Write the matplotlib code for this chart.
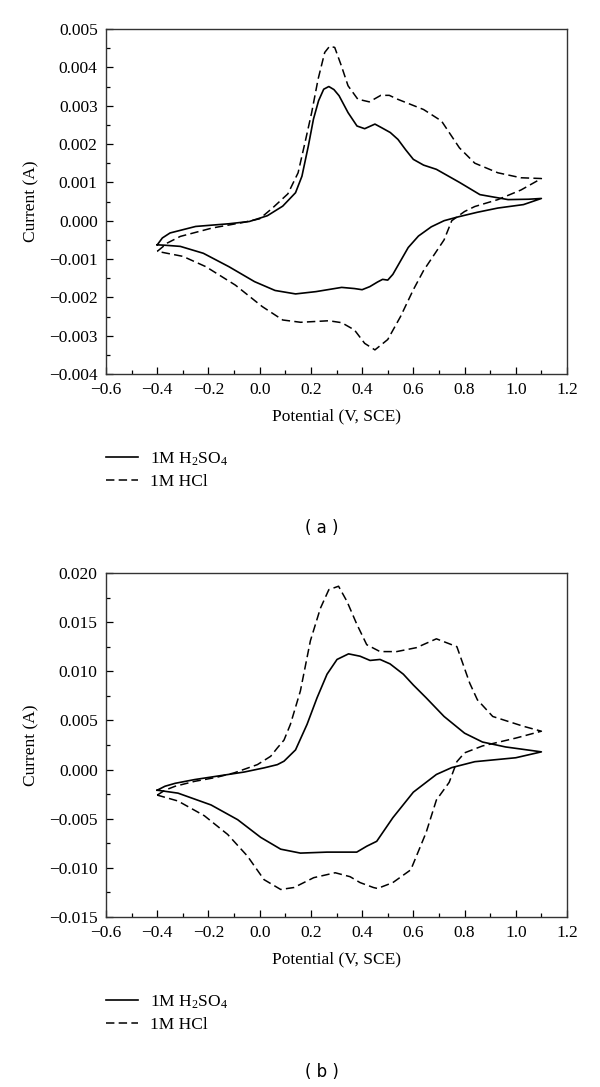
import matplotlib
matplotlib.use('Agg')
import matplotlib.pyplot as plt
from matplotlib.ticker import MultipleLocator, FuncFormatter
import numpy as np

plt.rcParams['font.family'] = ['Liberation Serif', 'DejaVu Serif']
plt.rcParams['mathtext.fontset'] = 'custom'
plt.rcParams['mathtext.rm'] = 'Liberation Serif'
plt.rcParams['mathtext.default'] = 'regular'

# ---- (a) datos: barrido directo y retorno, potencial en V, corriente en A
pot_a_h2so4 = [-0.40, -0.38, -0.35, -0.25, -0.12, -0.04, 0.03, 0.09, 0.14, 0.165, 0.19, 0.21,
               0.23, 0.25, 0.27, 0.29, 0.31, 0.345, 0.38, 0.41, 0.45, 0.475, 0.51, 0.54, 0.57,
               0.60, 0.64, 0.69, 0.78, 0.86, 0.97, 1.05, 1.10,
               1.03, 0.93, 0.85, 0.775, 0.72, 0.67, 0.62, 0.58, 0.55, 0.52, 0.50, 0.48, 0.46,
               0.43, 0.40, 0.37, 0.32, 0.22, 0.14, 0.06, -0.02, -0.12, -0.22, -0.31, -0.37,
               -0.40]
cur_a_h2so4 = [-0.00063, -0.00045, -0.00032, -0.00015, -0.00008, -0.00002, 0.00013, 0.00038,
               0.00073, 0.00116, 0.00195, 0.00265, 0.00313, 0.00343, 0.0035, 0.00342, 0.00326,
               0.00282, 0.00247, 0.0024, 0.00252, 0.00243, 0.0023, 0.00212, 0.00185, 0.0016,
               0.00145, 0.00134, 0.0010, 0.00068, 0.00055, 0.00056, 0.00058,
               0.00042, 0.00033, 0.00022, 0.0001, 0.0, -0.00016, -0.0004, -0.0007, -0.00105,
               -0.0014, -0.00155, -0.00153, -0.0016, -0.00172, -0.0018, -0.00177, -0.00174,
               -0.00185, -0.00191, -0.00182, -0.00159, -0.0012, -0.00085, -0.00067, -0.00064,
               -0.00063]

pot_a_hcl = [-0.40, -0.36, -0.31, -0.185, -0.06, 0.0, 0.05, 0.11, 0.15, 0.177, 0.203, 0.228,
             0.254, 0.273, 0.293, 0.319, 0.345, 0.383, 0.428, 0.473, 0.506, 0.538, 0.64, 0.71,
             0.78, 0.84, 0.93, 1.02, 1.10,
             1.02, 0.93, 0.84, 0.80, 0.75, 0.72, 0.68, 0.64, 0.60, 0.55, 0.50, 0.45, 0.41,
             0.37, 0.32, 0.27, 0.16, 0.09, 0.01, -0.095, -0.21, -0.30, -0.40]
cur_a_hcl = [-0.0008, -0.00058, -0.00041, -0.00019, -0.00004, 0.00005, 0.00033, 0.0007,
             0.00125, 0.00204, 0.00282, 0.00369, 0.00439, 0.00455, 0.00452, 0.00404, 0.00352,
             0.00317, 0.0031, 0.00327, 0.00327, 0.00317, 0.0029, 0.0026, 0.0019, 0.0015,
             0.00125, 0.00112, 0.0011,
             0.0008, 0.00055, 0.00037, 0.00024, 0.0, -0.0005, -0.0009, -0.0013, -0.0018,
             -0.0025, -0.0031, -0.00337, -0.0032, -0.00285, -0.00266, -0.00261, -0.00265,
             -0.00259, -0.00224, -0.00168, -0.0012, -0.00093, -0.0008]

# ---- (b) datos
pot_b_h2so4 = [-0.40, -0.37, -0.33, -0.254, -0.11, -0.06, 0.017, 0.069, 0.095, 0.14, 0.185,
               0.224, 0.263, 0.302, 0.347, 0.392, 0.431, 0.47, 0.509, 0.561, 0.60, 0.65, 0.72,
               0.80, 0.87, 0.96, 1.10,
               1.0, 0.84, 0.75, 0.69, 0.60, 0.52, 0.457, 0.418, 0.379, 0.263, 0.159, 0.082,
               0.004, -0.086, -0.19, -0.319, -0.40]
cur_b_h2so4 = [-0.0021, -0.0017, -0.0014, -0.00102, -0.00045, -0.00025, 0.00017, 0.0005,
               0.00085, 0.0020, 0.0046, 0.0073, 0.0097, 0.0112, 0.01177, 0.01153, 0.0111,
               0.0112, 0.01075, 0.0097, 0.0086, 0.0073, 0.0054, 0.0037, 0.0028, 0.0023, 0.0018,
               0.0012, 0.0008, 0.0002, -0.0005, -0.0023, -0.0049, -0.0073, -0.0078, -0.0084,
               -0.0084, -0.0085, -0.0081, -0.0069, -0.0051, -0.0036, -0.0024, -0.0021]

pot_b_hcl = [-0.40, -0.37, -0.33, -0.254, -0.17, -0.10, -0.009, 0.043, 0.069, 0.095, 0.12,
             0.159, 0.198, 0.237, 0.27, 0.308, 0.341, 0.379, 0.418, 0.47, 0.535, 0.612, 0.69,
             0.77, 0.82, 0.85, 0.91, 1.03, 1.10,
             1.0, 0.87, 0.80, 0.77, 0.74, 0.69, 0.65, 0.59, 0.52, 0.46, 0.444, 0.392, 0.353,
             0.295, 0.211, 0.134, 0.082, 0.017, -0.048, -0.125, -0.216, -0.319, -0.40]
cur_b_hcl = [-0.0026, -0.0021, -0.0017, -0.0012, -0.0008, -0.00034, 0.0005, 0.00135, 0.0022,
             0.003, 0.0046, 0.008, 0.0131, 0.0164, 0.0183, 0.01865, 0.0171, 0.0148, 0.0127,
             0.012, 0.012, 0.0124, 0.0133, 0.0125, 0.0088, 0.0071, 0.0054, 0.0044, 0.0039,
             0.0032, 0.0024, 0.0017, 0.0008, -0.0013, -0.0031, -0.0064, -0.0102, -0.0115,
             -0.0121, -0.012, -0.0115, -0.0109, -0.0105, -0.011, -0.012, -0.0122, -0.0112,
             -0.0088, -0.0066, -0.0047, -0.0032, -0.0026]

etiquetas = ['1M H$_2$SO$_4$', '1M HCl']


def menos(fmt):
    return FuncFormatter(lambda v, pos: (fmt % v).replace('-', '\u2212'))


def panel(ax, pot1, cur1, pot2, cur2, ylim, ymaj, yfmt):
    l1, = ax.plot(pot1, cur1, color='black', lw=1.2, ls='-')
    l2, = ax.plot(pot2, cur2, color='black', lw=1.1, ls=(0, (5.5, 2.8)))
    ax.set_xlim(-0.6, 1.2)
    ax.set_ylim(*ylim)
    ax.xaxis.set_major_locator(MultipleLocator(0.2))
    ax.xaxis.set_minor_locator(MultipleLocator(0.1))
    ax.yaxis.set_major_locator(MultipleLocator(ymaj))
    ax.yaxis.set_minor_locator(MultipleLocator(ymaj / 2))
    ax.xaxis.set_major_formatter(menos('%.1f'))
    ax.yaxis.set_major_formatter(menos(yfmt))
    ax.tick_params(which='both', direction='in', top=False, right=False, labelsize=12.5)
    ax.tick_params(which='major', length=5, width=0.9, pad=6)
    ax.tick_params(which='minor', length=2.8, width=0.9)
    for s in ax.spines.values():
        s.set_color('#333333')
        s.set_linewidth(1.0)
    ax.set_xlabel('Potential (V, SCE)', fontsize=12.5, labelpad=7)
    ax.set_ylabel('Current (A)', fontsize=12.5, labelpad=7)
    return l1, l2


fig = plt.figure(figsize=(6, 10.87), dpi=100)

ax_a = fig.add_axes([0.1767, 0.6559, 0.7683, 0.3174])
h = panel(ax_a, pot_a_h2so4, cur_a_h2so4, pot_a_hcl, cur_a_hcl, (-0.004, 0.005), 0.001, '%.3f')
fig.legend(h, etiquetas, loc='center left', bbox_to_anchor=(0.1767, 1 - 470 / 1087),
           frameon=False, fontsize=12.5, handlelength=1.85, handletextpad=0.7,
           labelspacing=0.35, borderpad=0, borderaxespad=0)
fig.text(322 / 600, 1 - 528 / 1087, '( a )', family='DejaVu Sans', fontsize=12,
         ha='center', va='center')

ax_b = fig.add_axes([0.1767, 0.1564, 0.7683, 0.3165])
h = panel(ax_b, pot_b_h2so4, cur_b_h2so4, pot_b_hcl, cur_b_hcl, (-0.015, 0.020), 0.005, '%.3f')
fig.legend(h, etiquetas, loc='center left', bbox_to_anchor=(0.1767, 1 - 1013 / 1087),
           frameon=False, fontsize=12.5, handlelength=1.85, handletextpad=0.7,
           labelspacing=0.35, borderpad=0, borderaxespad=0)
fig.text(322 / 600, 1 - 1072 / 1087, '( b )', family='DejaVu Sans', fontsize=12,
         ha='center', va='center')

fig.savefig('out.png', dpi=100)
